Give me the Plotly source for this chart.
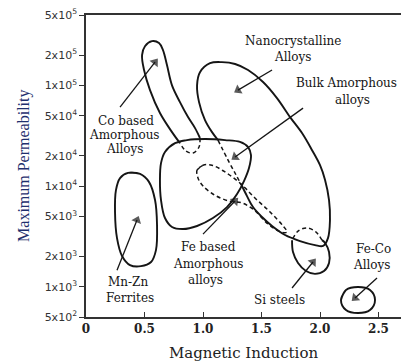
import math
import plotly.graph_objects as go

# ---- Region outlines: magnetic induction B (T) vs maximum permeability ----
# Co based amorphous alloys (visible part and the hidden, dashed tip)
co_B = [0.803, 0.735, 0.632, 0.547, 0.496, 0.479, 0.504, 0.564, 0.624, 0.658, 0.692, 0.735, 0.803, 0.872, 0.932, 0.974]
co_mu = [2.67e4, 3.43e4, 5.31e4, 8.97e4, 1.42e5, 2.0e5, 2.45e5, 2.75e5, 2.63e5, 2.24e5, 1.59e5, 1.0e5, 6.82e4, 4.84e4, 3.76e4, 3.0e4]
co_hid_B = [0.974, 0.966, 0.915, 0.855, 0.803]
co_hid_mu = [3.0e4, 2.44e4, 2.13e4, 2.22e4, 2.67e4]

# Nanocrystalline alloys (visible part and hidden dashed part)
nano_B = [1.333, 1.376, 1.427, 1.504, 1.590, 1.701, 1.829, 1.957, 2.026, 2.068, 2.085, 2.077, 2.043, 2.0,
          1.932, 1.846, 1.744, 1.632, 1.513, 1.385, 1.274, 1.162, 1.060, 0.974, 0.949, 0.966, 1.017, 1.077, 1.128]
nano_mu = [1.0e4, 7.94e3, 6.18e3, 4.92e3, 4.01e3, 3.26e3, 2.84e3, 2.59e3, 2.54e3, 3.04e3, 4.59e3, 7.26e3, 1.15e4, 1.61e4,
           2.27e4, 3.36e4, 4.84e4, 7.48e4, 1.08e5, 1.42e5, 1.63e5, 1.70e5, 1.66e5, 1.35e5, 1.0e5, 6.82e4, 4.52e4, 3.43e4, 2.86e4]
nano_hid_B = [1.128, 1.214, 1.282, 1.333]
nano_hid_mu = [2.86e4, 1.81e4, 1.29e4, 1.0e4]

# Bulk amorphous alloys
bulk_B = [0.761, 0.863, 1.017, 1.188, 1.316, 1.385, 1.410, 1.393, 1.350, 1.291, 1.205, 1.085, 0.949, 0.829, 0.735,
          0.675, 0.641, 0.632, 0.641, 0.675, 0.761, 0.863]
bulk_mu = [2.67e4, 2.86e4, 2.93e4, 2.86e4, 2.74e4, 2.44e4, 2.03e4, 1.51e4, 1.12e4, 8.32e3, 6.18e3, 4.81e3, 4.01e3, 3.74e3, 3.92e3,
           4.81e3, 7.26e3, 1.15e4, 1.69e4, 2.18e4, 2.67e4, 2.86e4]

# Fe based amorphous alloys (dashed outline)
fe_B = [0.949, 1.0, 1.077, 1.188, 1.316, 1.444, 1.573, 1.684, 1.718, 1.667, 1.556, 1.436, 1.333, 1.222, 1.102, 1.0, 0.957, 0.949, 1.0]
fe_mu = [1.44e4, 1.61e4, 1.61e4, 1.38e4, 1.07e4, 7.6e3, 5.52e3, 4.01e3, 3.49e3, 3.49e3, 4.19e3, 5.78e3, 6.8e3, 7.1e3, 8.1e3, 1.0e4, 1.2e4, 1.44e4, 1.61e4]

# Mn-Zn ferrites
mnzn_B = [0.359, 0.462, 0.538, 0.590, 0.607, 0.598, 0.556, 0.470, 0.376, 0.308, 0.265, 0.248, 0.256, 0.291, 0.359, 0.462]
mnzn_mu = [1.35e4, 1.32e4, 1.10e4, 7.26e3, 4.10e3, 2.31e3, 1.76e3, 1.60e3, 1.64e3, 2.02e3, 3.04e3, 5.52e3, 9.12e3, 1.20e4, 1.35e4, 1.32e4]

# Si steels (visible part and hidden dashed top)
si_B = [1.761, 1.769, 1.812, 1.880, 1.957, 2.034, 2.077, 2.077, 2.043, 2.017]
si_mu = [2.90e3, 2.21e3, 1.72e3, 1.43e3, 1.34e3, 1.43e3, 1.72e3, 2.21e3, 2.72e3, 2.90e3]
si_hid_B = [2.017, 1.966, 1.889, 1.812, 1.761]
si_hid_mu = [2.90e3, 3.49e3, 3.83e3, 3.57e3, 2.90e3]

# Fe-Co alloys
feco_B = [2.179, 2.222, 2.325, 2.427, 2.470, 2.427, 2.325, 2.222, 2.179, 2.222]
feco_mu = [7.38e2, 9.27e2, 9.93e2, 9.27e2, 7.38e2, 5.86e2, 5.47e2, 5.86e2, 7.38e2, 9.27e2]

# Arrows: (tail B, tail mu, head B, head mu)
arrows = [
    (0.291, 6.08e4, 0.590, 1.70e5),   # Co based
    (1.590, 1.42e5, 1.299, 8.97e4),   # Nanocrystalline
    (1.855, 5.94e4, 1.274, 1.94e4),   # Bulk amorphous
    (1.000, 3.33e3, 1.274, 7.10e3),   # Fe based
    (0.265, 1.46e3, 0.436, 4.59e3),   # Mn-Zn
    (1.761, 9.70e2, 1.940, 1.76e3),   # Si steels
    (2.487, 1.22e3, 2.299, 7.72e2),   # Fe-Co
]

# Labels: (text, B, mu)
labels = [
    ("Co based", 0.342, 4.4e4), ("Amorphous", 0.325, 3.2e4), ("Alloys", 0.333, 2.33e4),
    ("Nanocrystalline", 1.769, 2.75e5), ("Alloys", 1.769, 1.91e5),
    ("Bulk Amorphous", 2.222, 1.05e5), ("alloys", 2.274, 7.14e4),
    ("Fe based", 1.043, 2.48e3), ("Amorphous", 1.043, 1.68e3), ("alloys", 1.017, 1.16e3),
    ("Mn-Zn", 0.359, 1.11e3), ("Ferrites", 0.376, 7.72e2),
    ("Si steels", 1.650, 7.38e2),
    ("Fe-Co", 2.453, 2.37e3), ("Alloys", 2.444, 1.64e3),
]

x_ticks = [0, 0.5, 1.0, 1.5, 2.0, 2.5]
x_ticktext = ["0", "0.5", "1.0", "1.5", "2.0", "2.5"]
y_ticks = [5e2, 1e3, 2e3, 5e3, 1e4, 2e4, 5e4, 1e5, 2e5, 5e5]
y_ticktext = ["5x10<sup>2</sup>", "1x10<sup>3</sup>", "2x10<sup>3</sup>", "5x10<sup>3</sup>", "1x10<sup>4</sup>",
              "2x10<sup>4</sup>", "5x10<sup>4</sup>", "1x10<sup>5</sup>", "2x10<sup>5</sup>", "5x10<sup>5</sup>"]

INK = "#151515"
fig = go.Figure()

def outline(xs, ys, dash="solid", width=1.9):
    fig.add_trace(go.Scatter(
        x=xs, y=ys, mode="lines",
        line=dict(color=INK, width=width, dash=dash, shape="spline", smoothing=1.0),
        hoverinfo="skip", showlegend=False))

outline(co_B, co_mu)
outline(co_hid_B, co_hid_mu, dash="4px,3px", width=1.5)
outline(nano_B, nano_mu)
outline(nano_hid_B, nano_hid_mu, dash="4px,3px", width=1.5)
outline(bulk_B, bulk_mu)
outline(fe_B, fe_mu, dash="4px,3px", width=1.5)
outline(mnzn_B, mnzn_mu)
outline(si_B, si_mu)
outline(si_hid_B, si_hid_mu, dash="4px,3px", width=1.5)
outline(feco_B, feco_mu)

# arrows drawn as line traces with an arrowhead marker at the head
for tb, tm, hb, hm in arrows:
    fig.add_trace(go.Scatter(
        x=[tb, hb], y=[tm, hm], mode="lines+markers",
        line=dict(color=INK, width=1.3),
        marker=dict(symbol=["circle", "triangle-up"], size=[0, 9], angleref="previous",
                    color=INK, line=dict(width=0)),
        hoverinfo="skip", showlegend=False))

annotations = []
for txt, b, m in labels:
    annotations.append(dict(
        x=b, y=math.log10(m), xref="x", yref="y", text=txt, showarrow=False,
        font=dict(family="DejaVu Serif", size=12, color=INK), xanchor="center", yanchor="middle"))

# y-axis title placed as rotated text left of the tick labels
annotations.append(dict(
    x=-0.197, y=0.5, xref="paper", yref="paper", text="Maximum Permeability",
    textangle=-90, showarrow=False, xanchor="center", yanchor="middle",
    font=dict(family="Liberation Serif", size=16, color="#1f2f6e")))

fig.update_layout(
    width=401, height=362,
    margin=dict(l=86, r=0, t=15, b=45),
    paper_bgcolor="white", plot_bgcolor="white",
    annotations=annotations,
    xaxis=dict(
        range=[0, 2.692], showgrid=False, zeroline=False,
        showline=True, linecolor="#333", linewidth=1.5, mirror=True,
        ticks="inside", ticklen=5, tickwidth=1.3, tickcolor="#333",
        tickvals=x_ticks, ticktext=x_ticktext,
        tickfont=dict(family="DejaVu Serif", size=12, color="#222", weight="bold"),
        title=dict(text="Magnetic Induction", standoff=12,
                   font=dict(family="DejaVu Serif", size=15, color="#222")),
    ),
    yaxis=dict(
        type="log", range=[math.log10(500), math.log10(5e5)],
        showgrid=False, zeroline=False,
        showline=True, linecolor="#333", linewidth=1.5,
        ticks="outside", ticklen=5, tickwidth=1.3, tickcolor="#333",
        tickvals=y_ticks, ticktext=y_ticktext,
        tickfont=dict(family="DejaVu Sans", size=11, color="#333"),
    ),
)

fig.write_html("out.html", config={"displayModeBar": False},
               post_script="document.body.style.margin='0';")
